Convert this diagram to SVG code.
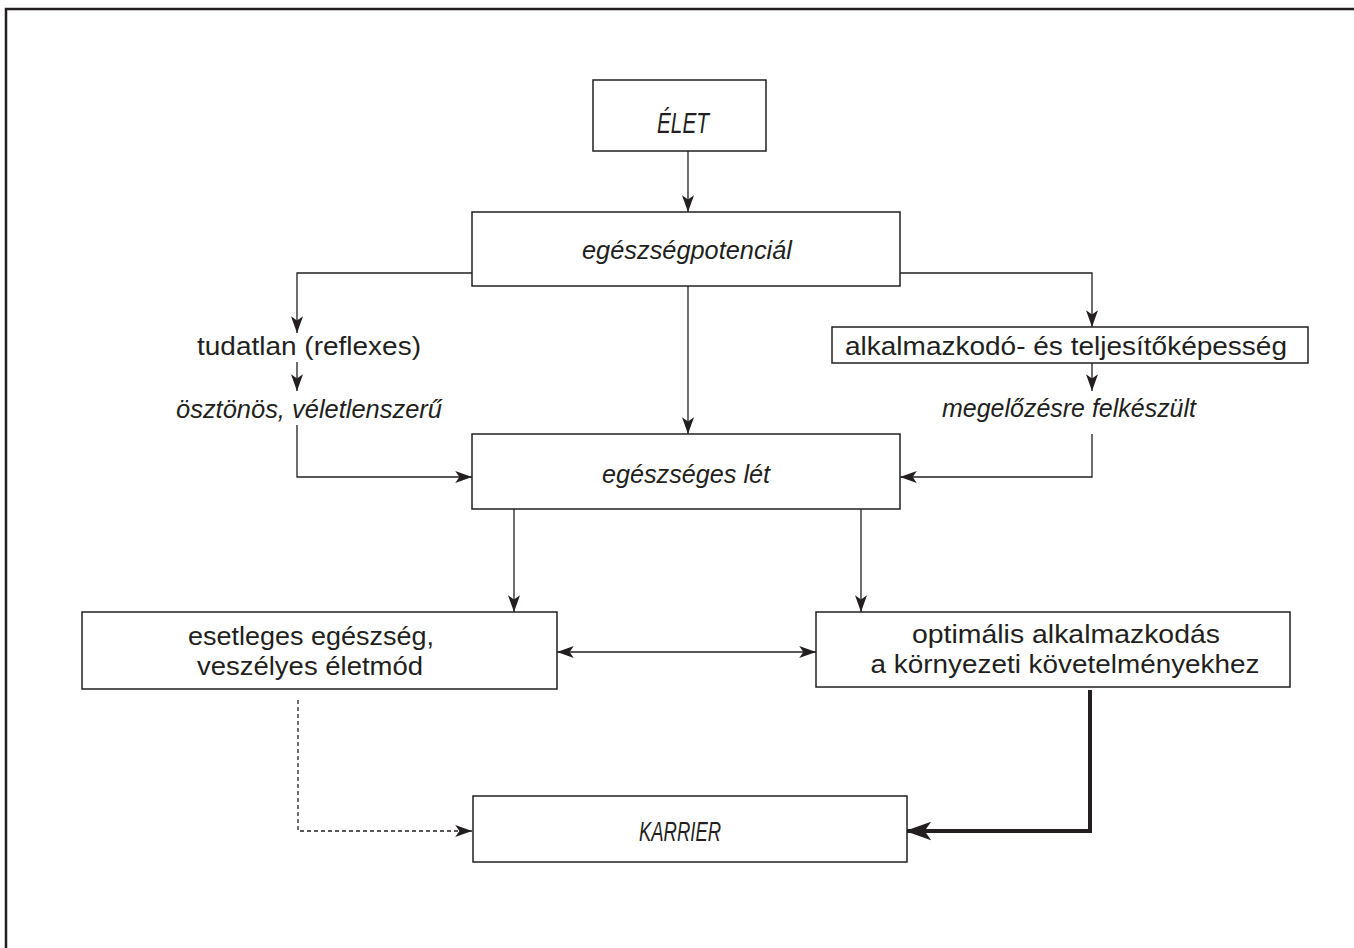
<svg xmlns="http://www.w3.org/2000/svg" width="1354" height="948" viewBox="0 0 1354 948">
<style>
.box{fill:#fff;stroke:#231f20;stroke-width:1.5}
.ln{fill:none;stroke:#231f20;stroke-width:1.3}
.t{font-family:"Liberation Sans","DejaVu Sans",sans-serif;font-size:26px;fill:#231f20;text-anchor:middle}
.i{font-style:italic}
</style>
<defs>
<marker id="ah" viewBox="0 0 14 10" refX="14" refY="5" markerWidth="17" markerHeight="12" markerUnits="userSpaceOnUse" orient="auto-start-reverse">
<path d="M0,0 L14,5 L0,10 L3.5,5 Z" fill="#231f20"/>
</marker>
<marker id="ahb" viewBox="0 0 14 10" refX="13" refY="5" markerWidth="26" markerHeight="19" markerUnits="userSpaceOnUse" orient="auto">
<path d="M0,0 L14,5 L0,10 L3.5,5 Z" fill="#231f20"/>
</marker>
</defs>
<rect width="1354" height="948" fill="#fff"/>
<path d="M6,948 V9 H1354" fill="none" stroke="#231f20" stroke-width="2.5"/>

<g id="connectors">
<line class="ln" x1="688" y1="151" x2="688" y2="212" marker-end="url(#ah)"/>
<polyline class="ln" points="472,273 297,273 297,333" marker-end="url(#ah)"/>
<polyline class="ln" points="900,273 1092,273 1092,327" marker-end="url(#ah)"/>
<line class="ln" x1="297" y1="362" x2="297" y2="391" marker-end="url(#ah)"/>
<line class="ln" x1="1092" y1="363" x2="1092" y2="391" marker-end="url(#ah)"/>
<polyline class="ln" points="297,425 297,477 472,477" marker-end="url(#ah)"/>
<polyline class="ln" points="1092,434 1092,477 900,477" marker-end="url(#ah)"/>
<line class="ln" x1="688" y1="286" x2="688" y2="434" marker-end="url(#ah)"/>
<line class="ln" x1="514" y1="509" x2="514" y2="612" marker-end="url(#ah)"/>
<line class="ln" x1="861" y1="509" x2="861" y2="612" marker-end="url(#ah)"/>
<line class="ln" x1="557" y1="652" x2="816" y2="652" marker-start="url(#ah)" marker-end="url(#ah)"/>
<polyline class="ln" points="298,700 298,831 472,831" stroke-dasharray="4,3" marker-end="url(#ah)"/>
<polyline points="1090,690 1090,831 907,831" fill="none" stroke="#231f20" stroke-width="4" marker-end="url(#ahb)"/>
</g>

<g id="elet">
<rect class="box" x="593" y="80" width="173" height="71"/>
<text class="t i" x="683" y="133" style="font-size:30px" textLength="52" lengthAdjust="spacingAndGlyphs">ÉLET</text>
</g>
<g id="egeszsegpotencial">
<rect class="box" x="472" y="212" width="428" height="74"/>
<text class="t i" x="687" y="259" textLength="210" lengthAdjust="spacingAndGlyphs">egészségpotenciál</text>
</g>
<g id="tudatlan">
<text class="t" x="309" y="355" textLength="224" lengthAdjust="spacingAndGlyphs">tudatlan  (reflexes)</text>
</g>
<g id="osztonos">
<text class="t i" x="309" y="418" textLength="266" lengthAdjust="spacingAndGlyphs">ösztönös, véletlenszerű</text>
</g>
<g id="alkalmazkodo">
<rect class="box" x="832" y="327" width="476" height="36"/>
<text class="t" x="1066" y="355" textLength="442" lengthAdjust="spacingAndGlyphs">alkalmazkodó-  és  teljesítőképesség</text>
</g>
<g id="megelozesre">
<text class="t i" x="1069" y="417" textLength="254" lengthAdjust="spacingAndGlyphs">megelőzésre felkészült</text>
</g>
<g id="egeszseges-let">
<rect class="box" x="472" y="434" width="428" height="75"/>
<text class="t i" x="686" y="483" textLength="168" lengthAdjust="spacingAndGlyphs">egészséges lét</text>
</g>
<g id="esetleges">
<rect class="box" x="82" y="612" width="475" height="77"/>
<text class="t" x="311" y="645" textLength="246" lengthAdjust="spacingAndGlyphs">esetleges  egészség,</text>
<text class="t" x="310" y="675" textLength="226" lengthAdjust="spacingAndGlyphs">veszélyes  életmód</text>
</g>
<g id="optimalis">
<rect class="box" x="816" y="612" width="474" height="75"/>
<text class="t" x="1066" y="643" textLength="308" lengthAdjust="spacingAndGlyphs">optimális  alkalmazkodás</text>
<text class="t" x="1065" y="673" textLength="389" lengthAdjust="spacingAndGlyphs">a  környezeti  követelményekhez</text>
</g>
<g id="karrier">
<rect class="box" x="473" y="796" width="434" height="66"/>
<text class="t i" x="680" y="841" style="font-size:28px" textLength="82" lengthAdjust="spacingAndGlyphs">KARRIER</text>
</g>
</svg>
